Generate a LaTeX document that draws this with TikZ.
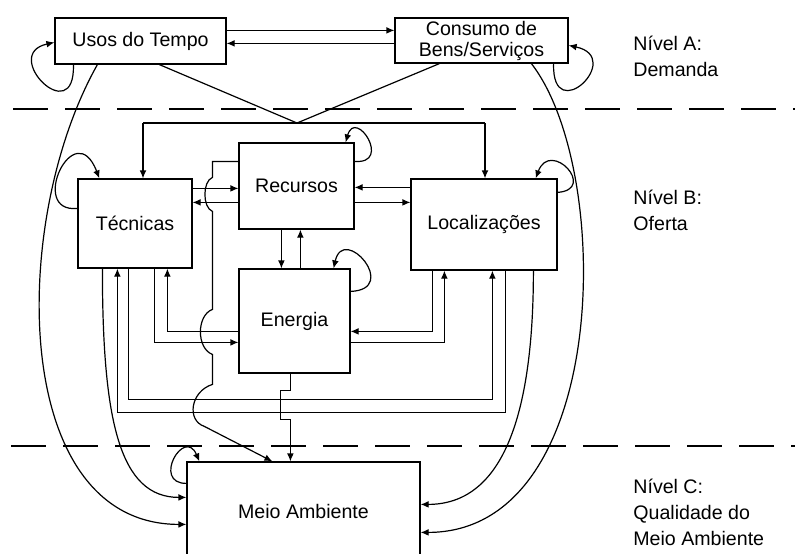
\documentclass[tikz,border=0pt]{standalone}
\usepackage{fontspec}
\setmainfont{Liberation Sans}
\usetikzlibrary{arrows.meta, calc}
\tikzset{
    blockNode/.style={rectangle, draw, line width=0.6pt, inner sep=0pt, align=center, font=\fontsize{9.8}{10.5}\selectfont},
    levelText/.style={anchor=west, inner sep=0pt, align=left, font=\fontsize{9.8}{13}\selectfont},
    flowEdge/.style={-{Latex[length=4pt, width=3.4pt]}, line width=0.6pt},
    lineEdge/.style={line width=0.6pt},
    levelDash/.style={line width=0.6pt, dash pattern=on 17.5pt off 8.5pt},
}
\newcommand{\selfLoop}[4]{
    \draw[flowEdge] (#1) .. controls +(#2) and +(#3) .. (#4);
}

\begin{document}
\begin{tikzpicture}[x=0.5pt, y=-0.5pt]
    \useasboundingbox (0,0) rectangle (795,553);

    % blocks
    \node[blockNode, minimum width=85.5pt, minimum height=23pt] (usos) at (140.5,41) {Usos do Tempo};
    \node[blockNode, minimum width=86.5pt, minimum height=22.5pt] (consumo) at (481.5,40.5) {Consumo de\\Bens/Serviços};
    \node[blockNode, minimum width=57pt, minimum height=44.5pt] (tecnicas) at (135,223.5) {Técnicas};
    \node[blockNode, minimum width=57.5pt, minimum height=43pt] (recursos) at (296.5,186) {Recursos};
    \node[blockNode, minimum width=55.5pt, minimum height=52pt] (energia) at (294.5,321) {Energia};
    \node[blockNode, minimum width=73pt, minimum height=45.5pt] (locais) at (484,224.5) {Localizações};
    \node[blockNode, minimum width=116.5pt, minimum height=49pt] (meio) at (303.5,511) {Meio Ambiente};

    % levels
    \draw[levelDash] (13,109) -- (795,109);
    \draw[levelDash] (11,446) -- (795,446);
    \node[levelText] (nivelA) at (633,56) {Nível A:\\Demanda};
    \node[levelText] (nivelB) at (633,210) {Nível B:\\Oferta};
    \node[levelText] (nivelC) at (633,512) {Nível C:\\Qualidade do\\Meio Ambiente};

    % demanda
    \draw[flowEdge] ($(usos.north east)+(0,13)$) -- ($(consumo.north west)+(0,13)$);
    \draw[flowEdge] ($(consumo.north west)+(0,26)$) -- ($(usos.north east)+(0,26)$);
    \selfLoop{$(usos.south west)+(19,0)$}{2,66}{-55,12}{$(usos.north west)+(0,25)$}
    \selfLoop{$(consumo.south east)+(-15,0)$}{-2,65}{57,12}{$(consumo.north east)+(0,28)$}

    \coordinate (junta) at (297,123);
    \coordinate (ramoE) at (143,123);
    \coordinate (ramoD) at (485,123);
    \draw[lineEdge] ($(usos.south west)+(105,0)$) -- (junta);
    \draw[lineEdge] ($(consumo.south west)+(45,0)$) -- (junta);
    \draw[lineEdge] (ramoE) -- (ramoD);
    \draw[flowEdge] (ramoE) -- (ramoE |- tecnicas.north);
    \draw[flowEdge] (ramoD) -- (ramoD |- locais.north);

    % oferta
    \selfLoop{$(tecnicas.north west)+(0,30)$}{-50,5}{-25,-65}{$(tecnicas.north west)+(22,0)$}
    \selfLoop{$(recursos.north east)+(0,19)$}{38,3}{10,-35}{$(recursos.north east)+(-9,0)$}
    \selfLoop{$(energia.north east)+(0,23)$}{50,-2}{10,-45}{$(energia.north east)+(-17,0)$}
    \selfLoop{$(locais.north east)+(0,14)$}{40,-3}{15,-40}{$(locais.north east)+(-22,0)$}

    \draw[flowEdge] ($(tecnicas.north east)+(0,10)$) -- ($(recursos.north west)+(0,46)$);
    \draw[flowEdge] ($(recursos.north west)+(0,60)$) -- ($(tecnicas.north east)+(0,24)$);
    \draw[flowEdge] ($(locais.north west)+(0,9)$) -- ($(recursos.north east)+(0,45)$);
    \draw[flowEdge] ($(recursos.north east)+(0,60)$) -- ($(locais.north west)+(0,24)$);
    \draw[flowEdge] ($(recursos.south west)+(43,0)$) -- ($(energia.north west)+(43,0)$);
    \draw[flowEdge] ($(energia.north west)+(62,0)$) -- ($(recursos.south west)+(62,0)$);
    \draw[flowEdge] ($(energia.north west)+(0,63)$) -| ($(tecnicas.south west)+(90,0)$);
    \draw[flowEdge] ($(tecnicas.south west)+(77,0)$) |- ($(energia.north west)+(0,74)$);
    \draw[flowEdge] ($(locais.south west)+(22,0)$) |- ($(energia.north east)+(0,63)$);
    \draw[flowEdge] ($(energia.north east)+(0,74)$) -| ($(locais.south west)+(34,0)$);
    \draw[flowEdge] ($(locais.south west)+(95,0)$) |- ($(tecnicas.south west)+(40,144)$) -- ($(tecnicas.south west)+(40,0)$);
    \draw[flowEdge] ($(tecnicas.south west)+(51,0)$) |- ($(locais.south west)+(82,129)$) -- ($(locais.south west)+(82,0)$);

    % meio ambiente
    \selfLoop{$(meio.north west)+(0,22)$}{-35,0}{-15,-35}{$(meio.north west)+(13,0)$}
    \draw[flowEdge] ($(recursos.north west)+(0,19)$) -- ++(-26,0) -- ++(0,16)
        .. controls +(-10,4) and +(-10,-4) .. ++(0,34) -- ++(0,98)
        .. controls +(-16,6) and +(-16,-6) .. ++(0,45) -- ++(0,30)
        .. controls +(-22,7) and +(-18,-6) .. ++(-8,42) -- ($(meio.north west)+(86,0)$);
    \draw[flowEdge] ($(energia.south west)+(52,0)$) -- ++(0,17) -- ++(-10,0) -- ++(0,29) -- ++(10,0) -- ($(meio.north west)+(104,0)$);
    \draw[flowEdge] ($(usos.south west)+(43,0)$) .. controls +(-88,156) and +(-177,0) .. ($(meio.north west)+(0,63)$);
    \draw[flowEdge] ($(tecnicas.south west)+(25,0)$) .. controls +(0,152) and +(-67,0) .. ($(meio.north west)+(0,36)$);
    \draw[flowEdge] ($(locais.south west)+(123,0)$) .. controls +(0,150) and +(80,0) .. ($(meio.north east)+(0,43)$);
    \draw[flowEdge] ($(consumo.south west)+(137,0)$) .. controls +(83,107) and +(190,0) .. ($(meio.north east)+(0,71)$);

\end{tikzpicture}
\end{document}
